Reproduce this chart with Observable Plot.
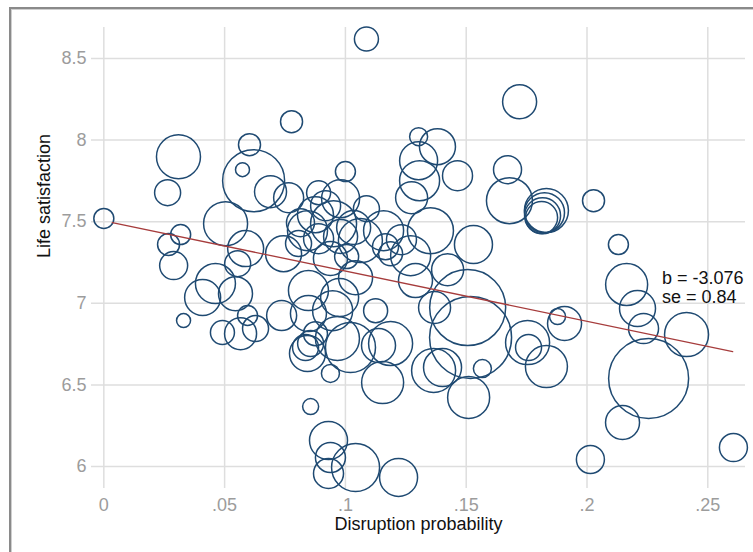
<!DOCTYPE html>
<html>
<head>
<meta charset="utf-8">
<script src="https://cdn.jsdelivr.net/npm/d3@7"></script>
<script src="https://cdn.jsdelivr.net/npm/@observablehq/plot@0.6"></script>
<style>
  html, body { margin: 0; padding: 0; background: #fff; }
  #wrap { position: relative; width: 753px; height: 552px; overflow: hidden; background: #fff; }
  #frame { position: absolute; left: 9px; top: 7px; width: 900px; height: 700px;
           border-top: 2px solid #8a8a8a; border-left: 2px solid #8a8a8a;
           box-shadow: inset 1px 1px 0 #cfcfcf; }
  #chart { position: absolute; left: 0; top: 0; }
</style>
</head>
<body>
<div id="wrap"><div id="frame"></div><div id="chart"></div></div>
<script>
// Disruption probability (x), life satisfaction (y), bubble weight
const disruption = [
  0.000, 0.0309, 0.0264, 0.0318, 0.0268, 0.0289, 0.0330, 0.0409, 0.0462, 0.0504,
  0.0603, 0.0574, 0.0620, 0.0690, 0.0765, 0.0587, 0.0554, 0.0545, 0.0595, 0.0491,
  0.0566, 0.0628, 0.0736, 0.0744, 0.0777, 0.0847, 0.0889, 0.0980, 0.1000, 0.0814,
  0.0843, 0.0876, 0.0889, 0.0951, 0.0980, 0.1034, 0.1062, 0.1087, 0.1158, 0.1166,
  0.1232, 0.1270, 0.1187, 0.1352, 0.1530, 0.1005, 0.0938, 0.0806, 0.0918, 0.1042,
  0.0976, 0.1125, 0.0847, 0.0947, 0.0835, 0.0876, 0.0967, 0.1021, 0.0938, 0.0843,
  0.0856, 0.1154, 0.1187, 0.1137, 0.1365, 0.1402, 0.1510, 0.1567, 0.0856, 0.0930,
  0.0938, 0.0930, 0.1042, 0.1220, 0.1369, 0.1506, 0.1303, 0.1381, 0.1464, 0.1303,
  0.1307, 0.1274, 0.1721, 0.1671, 0.1679, 0.1824, 0.1816, 0.1832, 0.1812, 0.2027,
  0.1907, 0.1878, 0.1754, 0.1758, 0.1832, 0.2014, 0.2130, 0.2164, 0.2209, 0.2234,
  0.2412, 0.2255, 0.2147, 0.2606, 0.1518, 0.1423, 0.1290, 0.1087
];
const lifeSatisfaction = [
  7.520, 7.898, 7.678, 7.421, 7.360, 7.231, 6.894, 7.035, 7.121, 7.488,
  7.972, 7.819, 7.751, 7.684, 7.647, 7.335, 7.243, 7.059, 6.925, 6.821,
  6.814, 6.845, 6.925, 7.304, 8.113, 7.078, 7.678, 7.641, 7.807, 7.494,
  7.445, 7.543, 7.396, 7.488, 7.409, 7.464, 7.384, 7.580, 7.445, 7.347,
  7.390, 7.292, 7.304, 7.445, 7.360, 7.286, 7.274, 7.366, 7.598, 7.157,
  7.035, 6.955, 6.937, 6.955, 6.729, 6.814, 6.784, 6.729, 6.570, 6.692,
  6.753, 6.514, 6.753, 6.741, 6.588, 6.606, 6.423, 6.600, 6.367, 6.159,
  6.055, 5.957, 5.994, 5.933, 6.974, 6.974, 8.021, 7.960, 7.782, 7.874,
  7.751, 7.647, 8.235, 7.819, 7.629, 7.555, 7.537, 7.568, 7.525, 7.629,
  6.876, 6.919, 6.759, 6.729, 6.612, 6.043, 7.360, 7.115, 6.968, 6.845,
  6.808, 6.539, 6.269, 6.116, 6.790, 7.206, 7.139, 8.620
];
const weight = [
  10, 48.4, 16.9, 10, 12.1, 19.6, 4.9, 32.4, 40, 48.4,
  12.1, 4.9, 96.1, 25.6, 22.5, 32.4, 16.9, 28.9, 10, 14.4,
  25.6, 16.9, 22.5, 32.4, 12.1, 40, 14.4, 36.1, 10, 19.6,
  40, 32.4, 22.5, 52.9, 28.9, 28.9, 48.4, 16.9, 40, 16.9,
  22.5, 40, 14.4, 52.9, 36.1, 14.4, 28.9, 16.9, 22.5, 28.9,
  36.1, 14.4, 32.4, 40, 16.9, 14.4, 48.4, 62.5, 8.1, 32.4,
  16.9, 44.1, 48.4, 28.9, 48.4, 36.1, 44.1, 8.1, 6.4, 36.1,
  22.5, 22.5, 57.6, 36.1, 25.6, 144.4, 8.1, 32.4, 22.5, 36.1,
  40, 25.6, 28.9, 19.6, 52.9, 40, 32.4, 48.4, 25.6, 12.1,
  28.9, 6.4, 48.4, 16.9, 44.1, 19.6, 10, 44.1, 32.4, 22.5,
  48.4, 160, 28.9, 19.6, 168.1, 25.6, 28.9, 14.4
];

const xTicks = [0, 0.05, 0.1, 0.15, 0.2, 0.25];
const xTickLabels = ["0", ".05", ".1", ".15", ".2", ".25"];
const yTicks = [6, 6.5, 7, 7.5, 8, 8.5];
const yTickLabels = ["6", "6.5", "7", "7.5", "8", "8.5"];

// fitted line
const slope = -3.076;
const intercept = 7.505;
const slopeSE = 0.84;
const fitRange = [0.0035, 0.2603];

const points = disruption.map((x, i) => ({x, y: lifeSatisfaction[i], w: weight[i]}));
const fit = fitRange.map(x => ({x, y: intercept + slope * x}));
const annotation = [{x: 0.231, y: 7.199, text: `b = ${slope.toFixed(3)}\nse = ${slopeSE.toFixed(2)}`}];

const font = "'Liberation Sans', Arial, sans-serif";
const tickColor = "#9c9c9c";
const gridColor = "#dedede";

const chart = Plot.plot({
  width: 753,
  height: 552,
  marginLeft: 91,
  marginRight: 8,
  marginTop: 27,
  marginBottom: 64,
  style: {fontFamily: font, fontSize: "18px", background: "transparent", overflow: "visible"},
  x: {domain: [-0.0051, 0.2656]},
  y: {domain: [5.865, 8.69]},
  r: {type: "sqrt", domain: [0, 1000], range: [0, 100]},
  marks: [
    Plot.gridX(xTicks, {stroke: gridColor, strokeOpacity: 1, strokeWidth: 1.5}),
    Plot.gridY(yTicks, {stroke: gridColor, strokeOpacity: 1, strokeWidth: 1.5}),
    Plot.axisX(xTicks, {tickSize: 0, tickPadding: 10, fill: tickColor, fontSize: 18, label: null,
      tickFormat: d => xTickLabels[xTicks.indexOf(d)]}),
    Plot.axisY(yTicks, {tickSize: 0, tickPadding: 5, fill: tickColor, fontSize: 18, label: null,
      tickFormat: d => yTickLabels[yTicks.indexOf(d)]}),
    Plot.dot(points, {x: "x", y: "y", r: "w", stroke: "#1f4a72", strokeWidth: 1.5, fill: "none", sort: null}),
    Plot.line(fit, {x: "x", y: "y", stroke: "#a63c3c", strokeWidth: 1.3}),
    Plot.text(annotation, {x: "x", y: "y", text: "text", textAnchor: "start", lineAnchor: "top",
      lineHeight: 1.03, fill: "#111", fontSize: 18}),
    Plot.text(["Disruption probability"], {frameAnchor: "bottom", lineAnchor: "bottom", dy: 41,
      fill: "#111", fontSize: 18}),
    Plot.text(["Life satisfaction"], {frameAnchor: "left", rotate: -90, lineAnchor: "bottom", dx: -42,
      fill: "#111", fontSize: 18})
  ]
});
document.getElementById("chart").appendChild(chart);
</script>
</body>
</html>
